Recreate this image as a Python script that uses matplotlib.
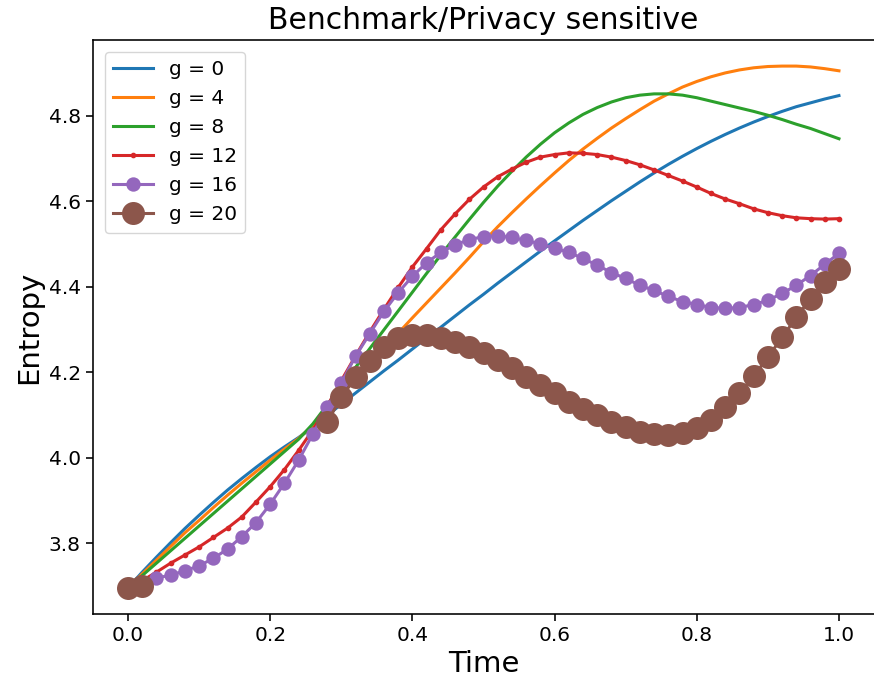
import numpy as np
import matplotlib
matplotlib.use("Agg")
import matplotlib.pyplot as plt

# Sample times (step 0.02)
time = np.round(np.arange(0, 51) * 0.02, 2)

g_values = [0, 4, 8, 12, 16, 20]

entropy_g0 = [3.695, 3.732, 3.767, 3.801, 3.834, 3.865, 3.895, 3.924, 3.951, 3.977,
              4.002, 4.025, 4.047, 4.071, 4.098, 4.125, 4.151, 4.177, 4.203, 4.228,
              4.254, 4.280, 4.305, 4.331, 4.357, 4.382, 4.408, 4.433, 4.458, 4.483,
              4.507, 4.531, 4.555, 4.578, 4.601, 4.623, 4.645, 4.666, 4.686, 4.705,
              4.723, 4.740, 4.756, 4.771, 4.785, 4.798, 4.810, 4.821, 4.830, 4.839,
              4.847]

entropy_g4 = [3.695, 3.728, 3.760, 3.792, 3.824, 3.853, 3.883, 3.912, 3.940, 3.967,
              3.994, 4.020, 4.045, 4.075, 4.111, 4.147, 4.183, 4.219, 4.255, 4.291,
              4.327, 4.362, 4.397, 4.432, 4.468, 4.505, 4.540, 4.573, 4.605, 4.636,
              4.666, 4.695, 4.722, 4.747, 4.771, 4.793, 4.814, 4.834, 4.851, 4.867,
              4.880, 4.891, 4.900, 4.907, 4.912, 4.915, 4.916, 4.916, 4.914, 4.910,
              4.905]

entropy_g8 = [3.695, 3.724, 3.753, 3.782, 3.811, 3.840, 3.869, 3.898, 3.927, 3.956,
              3.985, 4.014, 4.043, 4.079, 4.123, 4.167, 4.211, 4.255, 4.299, 4.343,
              4.387, 4.431, 4.474, 4.516, 4.557, 4.597, 4.635, 4.670, 4.703, 4.733,
              4.760, 4.783, 4.803, 4.819, 4.832, 4.842, 4.848, 4.851, 4.851, 4.848,
              4.842, 4.834, 4.826, 4.818, 4.810, 4.801, 4.791, 4.780, 4.770, 4.758,
              4.746]

entropy_g12 = [3.695, 3.712, 3.732, 3.753, 3.772, 3.791, 3.813, 3.835, 3.861, 3.896,
               3.932, 3.972, 4.017, 4.065, 4.120, 4.180, 4.238, 4.294, 4.347, 4.398,
               4.446, 4.489, 4.533, 4.570, 4.604, 4.633, 4.657, 4.675, 4.691, 4.703,
               4.709, 4.713, 4.712, 4.709, 4.703, 4.695, 4.685, 4.673, 4.660, 4.647,
               4.633, 4.618, 4.605, 4.594, 4.582, 4.573, 4.566, 4.561, 4.559, 4.558,
               4.559]

entropy_g16 = [3.695, 3.707, 3.718, 3.725, 3.735, 3.747, 3.764, 3.786, 3.815, 3.848,
               3.891, 3.940, 3.994, 4.055, 4.118, 4.175, 4.237, 4.290, 4.342, 4.386,
               4.424, 4.456, 4.480, 4.498, 4.510, 4.517, 4.519, 4.515, 4.508, 4.500,
               4.490, 4.480, 4.466, 4.450, 4.433, 4.419, 4.403, 4.391, 4.377, 4.365,
               4.358, 4.351, 4.349, 4.351, 4.358, 4.368, 4.384, 4.403, 4.426, 4.452,
               4.478]

nan = float("nan")
entropy_g20 = [3.695, 3.700, nan, nan, nan, nan, nan, nan, nan, nan,
               nan, nan, nan, nan, 4.083, 4.141, 4.188, 4.225, 4.258, 4.279,
               4.286, 4.286, 4.279, 4.270, 4.258, 4.244, 4.228, 4.209, 4.188, 4.169,
               4.150, 4.130, 4.113, 4.099, 4.083, 4.071, 4.059, 4.055, 4.052, 4.057,
               4.069, 4.087, 4.118, 4.150, 4.190, 4.235, 4.281, 4.328, 4.372, 4.410,
               4.442]

series = [entropy_g0, entropy_g4, entropy_g8, entropy_g12, entropy_g16, entropy_g20]
marker_sizes = [0, 0, 0, 2.6, 8.9, 15.1]
colors = ["#1f77b4", "#ff7f0e", "#2ca02c", "#d62728", "#9467bd", "#8c564b"]

fig = plt.figure(figsize=(8.74, 6.85), dpi=100)
ax = fig.add_axes([92.5 / 874, 71 / 685, 782 / 874, 574 / 685])

for g, vals, ms, c in zip(g_values, series, marker_sizes, colors):
    if ms > 0:
        ax.plot(time, vals, color=c, lw=2.2, marker="o", ms=ms, mew=1.45,
                label=f"g = {g}")
    else:
        ax.plot(time, vals, color=c, lw=2.2, label=f"g = {g}")

ax.set_title("Benchmark/Privacy sensitive", fontsize=21.5, pad=8)
ax.set_xlabel("Time", fontsize=21)
ax.set_ylabel("Entropy", fontsize=21)
ax.set_xticks([0.0, 0.2, 0.4, 0.6, 0.8, 1.0])
ax.set_yticks([3.8, 4.0, 4.2, 4.4, 4.6, 4.8])
ax.tick_params(labelsize=14.5, length=5, width=1.16)
for sp in ax.spines.values():
    sp.set_linewidth(1.16)

ax.legend(loc="upper left", fontsize=14.5, borderaxespad=0.6)

fig.savefig("out.png", dpi=100)
